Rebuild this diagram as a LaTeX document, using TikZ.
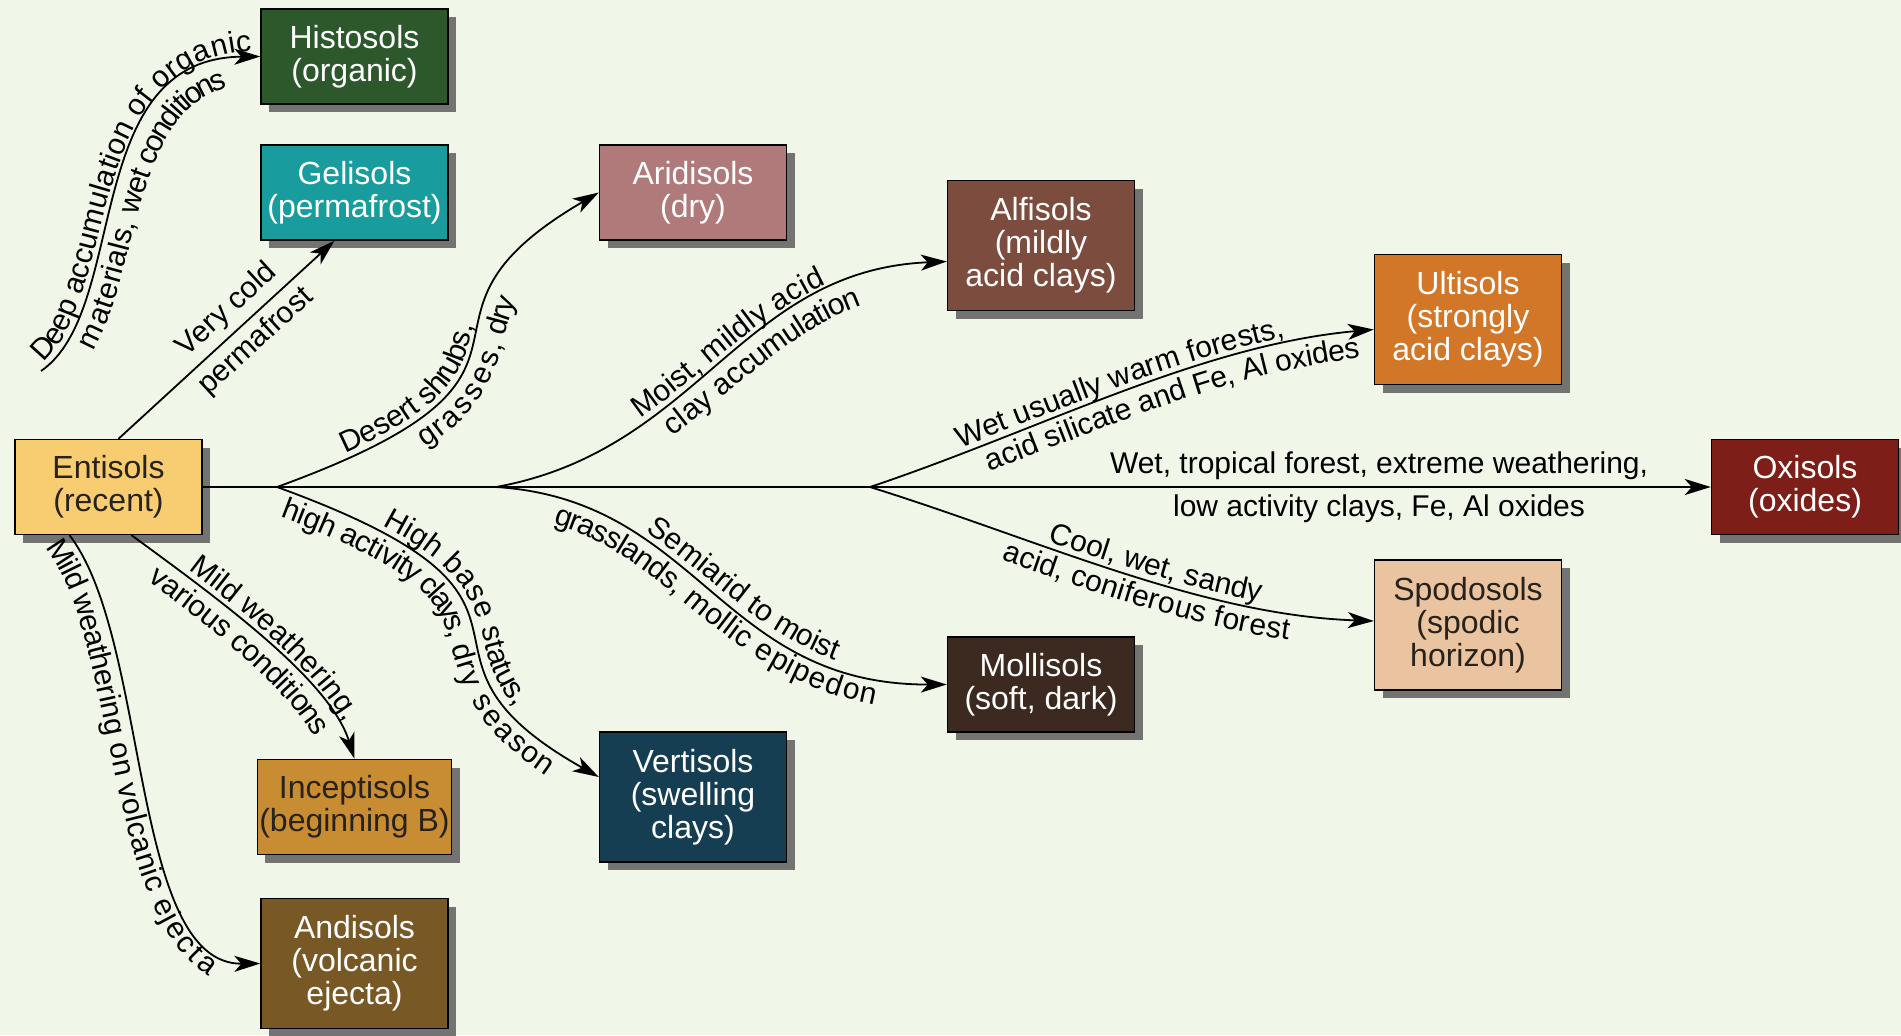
\documentclass[tikz,border=0pt]{standalone}
\usepackage{fontspec}
\setmainfont{Liberation Sans}
\usepackage{tikz}
\usetikzlibrary{arrows.meta}
\usetikzlibrary{shadows}
\usetikzlibrary{decorations.text}

\definecolor{bg}{RGB}{240,246,232}
\definecolor{ink}{RGB}{40,34,28}
\definecolor{entc}{RGB}{248,204,112}
\definecolor{hisc}{RGB}{44,88,44}
\definecolor{gelc}{RGB}{24,156,158}
\definecolor{aric}{RGB}{176,122,122}
\definecolor{alfc}{RGB}{124,76,62}
\definecolor{ultc}{RGB}{210,118,40}
\definecolor{oxic}{RGB}{125,30,25}
\definecolor{spoc}{RGB}{234,196,160}
\definecolor{molc}{RGB}{60,42,32}
\definecolor{verc}{RGB}{22,62,82}
\definecolor{incc}{RGB}{200,140,50}
\definecolor{andc}{RGB}{120,88,36}

\newcommand{\lblfont}{\fontsize{15}{15}\selectfont}
\newcommand{\boxfont}{\fontsize{16}{16.5}\selectfont}

\tikzset{
  soil/.style={draw=black, line width=0.7pt, minimum width=93.5pt, minimum height=47.5pt, inner xsep=1pt, align=center, font=\boxfont, text=white,
    drop shadow={shadow xshift=4pt, shadow yshift=-4pt, fill=black!60, opacity=.9}},
  tall/.style={minimum height=65pt},
  flow/.style={line width=0.9pt, -{Stealth[length=13pt,width=8pt,inset=3.5pt]}},
  upper/.style 2 args={postaction={decorate, decoration={text along path, text align={center,#2}, raise=3pt, text={|\lblfont|#1}}}},
  lower/.style 2 args={postaction={decorate, decoration={text along path, text align={center,#2}, raise=-13.5pt, text={|\lblfont|#1}}}}
}

\begin{document}
\begin{tikzpicture}[x=0.5pt,y=-0.5pt]

\fill[bg] (0,0) rectangle (1901,1035);
\useasboundingbox (0,0) rectangle (1901,1035);

\node[soil,fill=entc,text=ink] (ent) at (108.5,487) {Entisols\\(recent)};
\node[soil,fill=hisc] (his) at (354.5,56.5) {Histosols\\(organic)};
\node[soil,fill=gelc] (gel) at (354.5,192.5) {Gelisols\\(permafrost)};
\node[soil,fill=aric] (ari) at (693,192.5) {Aridisols\\(dry)};
\node[soil,tall,fill=alfc] (alf) at (1041,245.5) {Alfisols\\(mildly\\acid clays)};
\node[soil,tall,fill=ultc] (ult) at (1468,319.5) {Ultisols\\(strongly\\acid clays)};
\node[soil,fill=oxic] (oxi) at (1805,487) {Oxisols\\(oxides)};
\node[soil,tall,fill=spoc,text=ink] (spo) at (1468,625) {Spodosols\\(spodic\\horizon)};
\node[soil,fill=molc] (mol) at (1041,684.5) {Mollisols\\(soft, dark)};
\node[soil,tall,fill=verc] (ver) at (693,797) {Vertisols\\(swelling\\clays)};
\node[soil,fill=incc,text=ink] (inc) at (354.5,807) {Inceptisols\\(beginning B)};
\node[soil,tall,fill=andc] (andi) at (354.5,963.5) {Andisols\\(volcanic\\ejecta)};

\coordinate (hs) at (41,371);
\coordinate (br1) at (277,487);
\coordinate (br2) at (496,487);
\coordinate (br3) at (870,487);

\draw[flow] (ent.east) -- (oxi.west)
  node[pos=.78,above,font=\lblfont] (wet) {Wet, tropical forest, extreme weathering,}
  node[pos=.78,below,font=\lblfont] (low) {low activity clays, Fe, Al oxides};
\draw[flow] ([xshift=5pt]ent.north) -- ([xshift=-10pt]gel.south)
  node[pos=.57,sloped,above,font=\lblfont] (cold) {Very cold}
  node[pos=.57,sloped,below,font=\lblfont] (perm) {permafrost};
\draw[flow,upper={Deep accumulation of organic}{},lower={materials, wet conditions}{}] (hs) .. controls (130,310) and (80,58) .. (his.west);
\draw[flow,upper={Desert shrubs,}{right indent=55pt},lower={grasses, dry}{}] (br1) .. controls (599,370) and (375,323) .. (ari.west);
\draw[flow,upper={High base status,}{},lower={high activity clays, dry season}{right indent=15pt}] (br1) .. controls (599,604) and (375,651) .. ([yshift=10pt]ver.west);
\draw[flow,upper={Moist, mildly acid}{left indent=20pt},lower={clay accumulation}{left indent=40pt}] (br2) .. controls (700,450) and (740,270) .. ([yshift=-8pt]alf.west);
\draw[flow,upper={Semiarid to moist}{left indent=20pt},lower={grasslands, mollic epipedon}{}] (br2) .. controls (700,500) and (720,685) .. (mol.west);
\draw[flow,upper={Wet usually warm forests,}{left indent=5pt},lower={acid silicate and Fe, Al oxides}{left indent=50pt}] (br3) .. controls (1040,430) and (1200,345) .. ([yshift=-5pt]ult.west);
\draw[flow,upper={Cool, wet, sandy}{left indent=35pt},lower={acid, coniferous forest}{left indent=33pt}] (br3) .. controls (1040,540) and (1200,615) .. ([yshift=2pt]spo.west);
\draw[flow,upper={Mild weathering,}{left indent=15pt},lower={various conditions}{}] ([xshift=11.5pt]ent.south) .. controls (220,600) and (330,680) .. (inc.north);
\draw[flow,lower={Mild weathering on volcanic ejecta}{right indent=20pt}] ([xshift=-19.5pt]ent.south) .. controls (150,640) and (130,965) .. (andi.west);

\end{tikzpicture}
\end{document}
